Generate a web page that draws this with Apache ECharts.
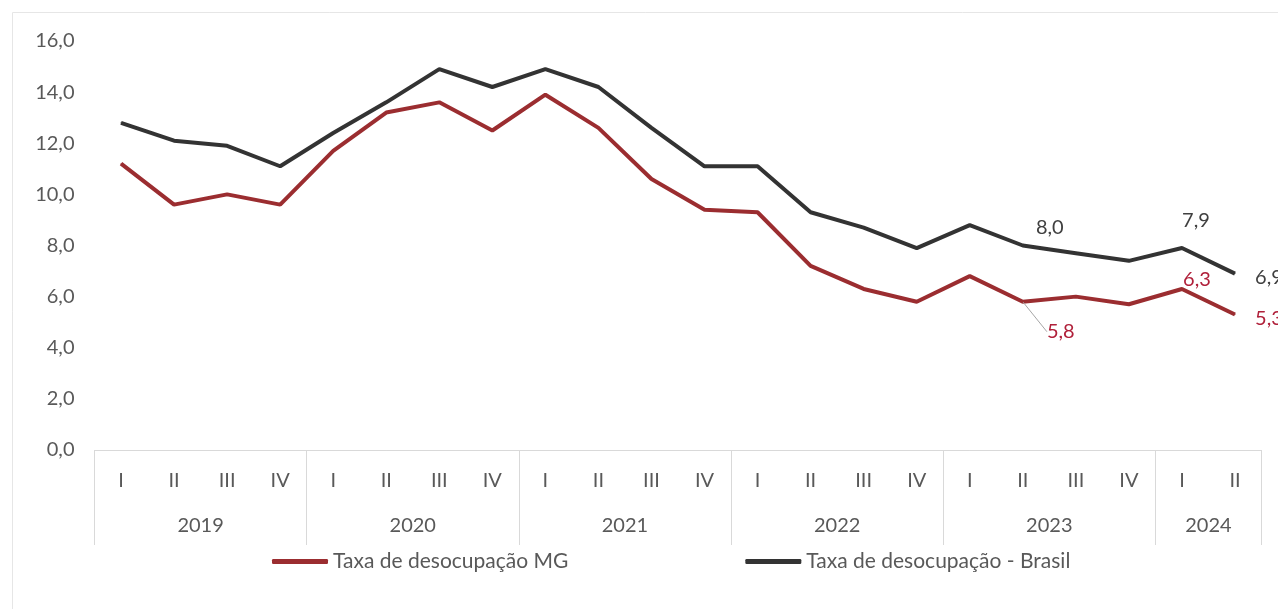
<!DOCTYPE html>
<html><head><meta charset="utf-8">
<script src="https://cdn.jsdelivr.net/npm/echarts@6/dist/echarts.min.js"></script>
<style>html,body{margin:0;padding:0;background:#fff}#c{width:1278px;height:609px}</style>
</head><body><div id="c"></div>
<script>
const quarters = ['I','II','III','IV','I','II','III','IV','I','II','III','IV','I','II','III','IV','I','II','III','IV','I','II'];
const years = ['2019','2020','2021','2022','2023','2024'];
const yearSpans = [4,4,4,4,4,2];
const mgValues = [11.2,9.6,10.0,9.6,11.7,13.2,13.6,12.5,13.9,12.6,10.6,9.4,9.3,7.2,6.3,5.8,6.8,5.8,6.0,5.7,6.3,5.3];
const brValues = [12.8,12.1,11.9,11.1,12.4,13.6,14.9,14.2,14.9,14.2,12.6,11.1,11.1,9.3,8.7,7.9,8.8,8.0,7.7,7.4,7.9,6.9];
const yTicks = [0,2,4,6,8,10,12,14,16];
const mgName = 'Taxa de desocupação MG';
const brName = 'Taxa de desocupação - Brasil';

const FONT = 'Lato';
const fmt = v => v.toFixed(1).replace('.', ',');

const bounds = [0]; const centers = [];
yearSpans.forEach(s => { const b = bounds[bounds.length-1]; centers.push(b + s/2); bounds.push(b + s); });

const mgLabelCfg = {17: {offset:[38,30], leader:true}, 20: {offset:[15,-9]}, 21: {offset:[34,4]}};
const brLabelCfg = {17: {offset:[27,-18]}, 20: {offset:[14,-28]}, 21: {offset:[34,4]}};

function build(values, cfg, color) {
  return values.map((v, i) => {
    const c = cfg[i];
    if (!c) return v;
    return {value: v,
      label: {show: true, position: 'inside', formatter: p => fmt(p.value),
        color: color, fontFamily: FONT, fontSize: 20, align: 'center', verticalAlign: 'middle'},
      labelLine: {show: !!c.leader, lineStyle: {color: '#a6a6a6', width: 1}}};
  });
}
function layoutFor(cfg) {
  return function (p) {
    const c = cfg[p.dataIndex];
    return c ? {dx: c.offset[0], dy: c.offset[1]} : {};
  };
}

const chart = echarts.init(document.getElementById('c'), null, {renderer: 'canvas'});
chart.setOption({
  animation: false,
  backgroundColor: '#fff',
  graphic: [{type: 'rect', shape: {x: 12.5, y: 12.5, width: 1290, height: 620}, style: {fill: 'none', stroke: '#e6e6e6', lineWidth: 1}, silent: true, z: -1}],
  grid: {left: 94.5, right: 16.5, top: 41, bottom: 159},
  legend: {
    left: 267, top: 546, itemGap: 177, itemWidth: 56, itemHeight: 5, icon: 'roundRect',
    textStyle: {fontFamily: FONT, fontSize: 21, color: '#595959'},
    data: [mgName, brName]
  },
  xAxis: [
    {type: 'category', data: quarters, boundaryGap: true,
     axisLine: {lineStyle: {color: '#d9d9d9', width: 1}},
     axisTick: {show: false},
     axisLabel: {margin: 21, fontFamily: FONT, fontSize: 20, color: '#595959', interval: 0}},
    {type: 'value', min: 0, max: bounds[bounds.length-1], position: 'bottom',
     axisLine: {show: false}, splitLine: {show: false},
     axisTick: {show: true, customValues: bounds, length: 95, lineStyle: {color: '#d9d9d9', width: 1}},
     axisLabel: {customValues: centers, margin: 66, fontFamily: FONT, fontSize: 20, color: '#595959',
       formatter: v => { const k = centers.indexOf(v); return k >= 0 ? years[k] : ''; }}}
  ],
  yAxis: {type: 'value', min: yTicks[0], max: yTicks[yTicks.length-1], interval: 2,
    axisLine: {show: false}, axisTick: {show: false}, splitLine: {show: false},
    axisLabel: {margin: 20, fontFamily: FONT, fontSize: 20, color: '#595959', formatter: v => fmt(v)}},
  series: [
    {name: mgName, type: 'line', xAxisIndex: 0, data: build(mgValues, mgLabelCfg, '#B0203A'),
     symbol: 'circle', symbolSize: 1, showSymbol: true,
     lineStyle: {color: '#9B2D30', width: 4}, itemStyle: {color: '#9B2D30'},
     labelLayout: layoutFor(mgLabelCfg)},
    {name: brName, type: 'line', xAxisIndex: 0, data: build(brValues, brLabelCfg, '#404040'),
     symbol: 'circle', symbolSize: 1, showSymbol: true,
     lineStyle: {color: '#333333', width: 4}, itemStyle: {color: '#333333'},
     labelLayout: layoutFor(brLabelCfg)}
  ]
});
</script></body></html>
